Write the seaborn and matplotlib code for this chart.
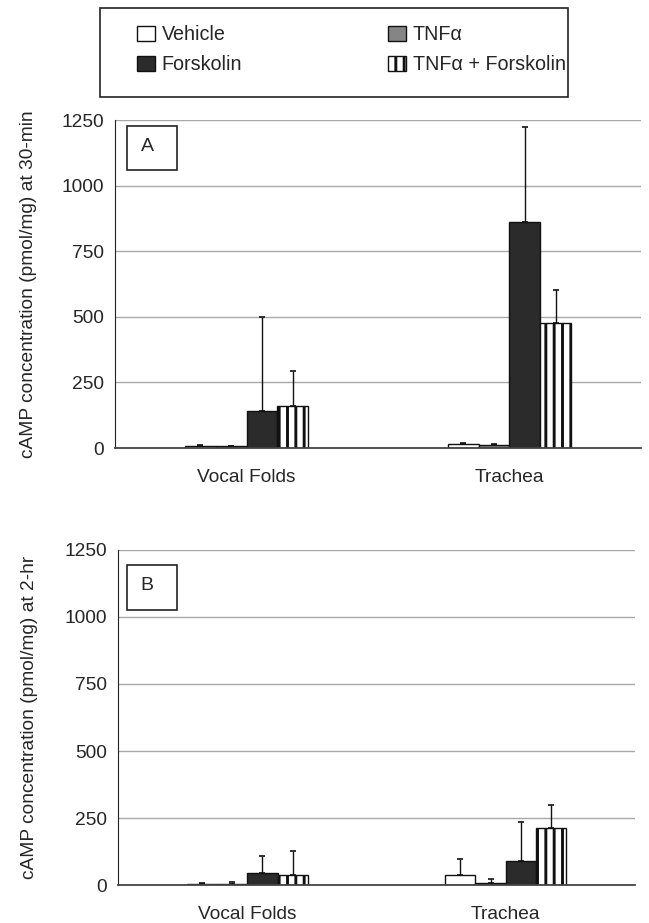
import matplotlib
matplotlib.use("Agg")
import matplotlib.pyplot as plt
import matplotlib.patches as mpatches
import numpy as np
import pandas as pd
import seaborn as sns

# Data
tissues = ["Vocal Folds", "Trachea"]
treatments = ["Vehicle", "TNFα", "Forskolin", "TNFα + Forskolin"]

# 30-min (panel A), mean per treatment, order = tissues
a_vehicle = [8, 15]
a_tnf = [6, 12]
a_forsk = [140, 862]
a_tnf_forsk = [160, 478]
a_vehicle_err = [2, 3]
a_tnf_err = [2, 3]
a_forsk_err = [360, 360]
a_tnf_forsk_err = [135, 126]

# 2-hr (panel B)
b_vehicle = [4, 37]
b_tnf = [6, 9]
b_forsk = [45, 92]
b_tnf_forsk = [40, 213]
b_vehicle_err = [3, 62]
b_tnf_err = [8, 13]
b_forsk_err = [64, 143]
b_tnf_forsk_err = [88, 87]

colors = {"Vehicle": "white", "TNFα": "#858585",
          "Forskolin": "#2b2b2b", "TNFα + Forskolin": "white"}

sns.set_style("white")
plt.rcParams['font.family'] = ['Liberation Sans', 'DejaVu Sans']
plt.rcParams['hatch.linewidth'] = 2.1
plt.rcParams['hatch.color'] = '#1a1a1a'


def make_df(vals, errs):
  rows = []
  for t, v, e in zip(treatments, vals, errs):
    for tis, vv, ee in zip(tissues, v, e):
      rows.append({"tissue": tis, "treatment": t, "value": vv, "err": ee})
  return pd.DataFrame(rows)


df_a = make_df([a_vehicle, a_tnf, a_forsk, a_tnf_forsk],
               [a_vehicle_err, a_tnf_err, a_forsk_err, a_tnf_forsk_err])
df_b = make_df([b_vehicle, b_tnf, b_forsk, b_tnf_forsk],
               [b_vehicle_err, b_tnf_err, b_forsk_err, b_tnf_forsk_err])

fig = plt.figure(figsize=(6.49, 9.23), dpi=100)
ax_a = fig.add_axes([115 / 649, 1 - 448 / 923, 526 / 649, 328 / 923])
ax_b = fig.add_axes([118 / 649, 1 - 885.3 / 923, 517 / 649, 335.6 / 923])


def draw_panel(ax, df, ylabel, letter, box):
  sns.barplot(data=df, x="tissue", y="value", hue="treatment",
              order=tissues, hue_order=treatments, palette=colors,
              width=0.47, errorbar=None, edgecolor="#111111", linewidth=1,
              legend=False, ax=ax, zorder=3)
  for cont, t in zip(ax.containers, treatments):
    sub = df[df.treatment == t].set_index("tissue").loc[tissues]
    xs = [b.get_x() + b.get_width() / 2 for b in cont]
    if t == "TNFα + Forskolin":
      for b in cont:
        b.set_hatch("||")
    ax.errorbar(xs, sub["value"], yerr=[np.zeros(len(xs)), sub["err"]],
                fmt="none", ecolor="#111111", elinewidth=1, capsize=2.5,
                capthick=1.2, zorder=4)

  ax.set_xlim(-0.5, 1.5)
  ax.set_ylim(0, 1250)
  ax.set_yticks(range(0, 1251, 250))
  for y in range(250, 1251, 250):
    ax.axhline(y, color="#a8a8a8", lw=1, zorder=1)
  ax.set_xlabel("")
  ax.set_ylabel(ylabel, fontsize=13.8)
  ax.yaxis.set_label_coords(box[4], 0.5)
  ax.set_xticks([-0.5, 0.5, 1.5], minor=True)
  ax.tick_params(axis="x", which="major", length=0, pad=15, labelsize=13.8)
  ax.tick_params(axis="x", which="minor", length=6, width=1, color="#222222",
                 direction="out")
  ax.tick_params(axis="y", length=6, width=1, color="#222222", pad=2,
                 labelsize=13.8, direction="out")
  sns.despine(ax=ax)
  ax.spines["left"].set_color("#222222")
  ax.spines["bottom"].set_color("#444444")
  ax.spines["bottom"].set_linewidth(1.3)
  ax.spines["bottom"].set_zorder(5)

  # panel letter box
  x0, x1, y0, y1 = box[:4]
  ax.add_patch(mpatches.Rectangle((x0, y0), x1 - x0, y1 - y0,
                                  transform=ax.transAxes, fill=False,
                                  edgecolor="#222222", lw=1.2, zorder=6,
                                  clip_on=False))
  ax.text(x0 + 0.026, (y0 + y1) / 2 + 0.005, letter, transform=ax.transAxes,
          ha="left", va="center", fontsize=14, zorder=7)


draw_panel(ax_a, df_a, "cAMP concentration (pmol/mg) at 30-min", "A",
           (0.0228, 0.118, 0.8476, 0.982, -0.148))
draw_panel(ax_b, df_b, "cAMP concentration (pmol/mg) at 2-hr", "B",
           (0.0174, 0.114, 0.820, 0.954, -0.155))

# legend box at the top
fig.patches.append(mpatches.Rectangle((100 / 649, 1 - 97 / 923), 468 / 649,
                                      89 / 923, transform=fig.transFigure,
                                      fill=False, edgecolor="#222222",
                                      lw=1.2))
handles = []
for t in ["Vehicle", "Forskolin", "TNFα", "TNFα + Forskolin"]:
  h = mpatches.Patch(facecolor=colors[t], edgecolor="#111111", lw=1,
                     hatch="||" if t == "TNFα + Forskolin" else None, label=t)
  handles.append(h)
fig.legend(handles=handles, ncol=2, loc="upper left", frameon=False,
           bbox_to_anchor=(137 / 649, 1 - 25 / 923), borderpad=0,
           borderaxespad=0, fontsize=14.2, handlelength=0.9,
           handleheight=0.8, handletextpad=0.35, columnspacing=7.4,
           labelspacing=0.58)

fig.savefig("out.png", dpi=100)
